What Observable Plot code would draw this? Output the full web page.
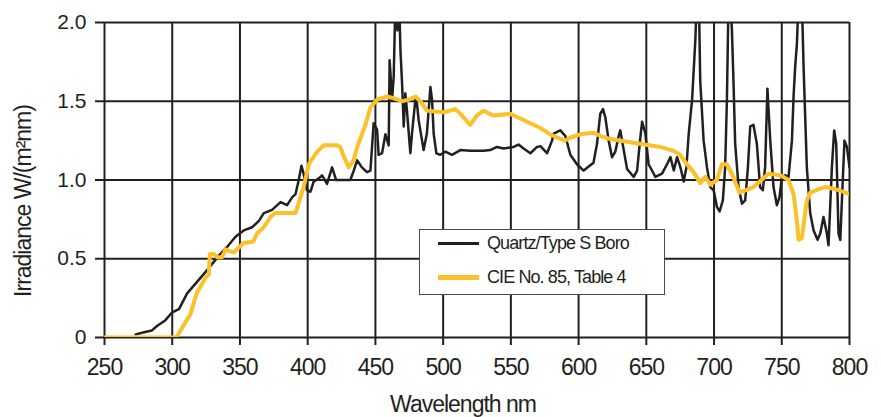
<!DOCTYPE html>
<html>
<head>
<meta charset="utf-8">
<script src="https://cdn.jsdelivr.net/npm/d3@7"></script>
<script src="https://cdn.jsdelivr.net/npm/@observablehq/plot@0.6"></script>
<style>
  html, body { margin: 0; padding: 0; background: #fff; }
  #wrap { position: relative; width: 881px; height: 417px; font-family: "Liberation Sans", Arial, sans-serif; color: #231f20; }
  #legend { position: absolute; left: 419px; top: 229px; width: 244px; height: 64px; border: 1.5px solid #4a4a4a; background: #fff; }
  .sw { position: absolute; left: 18px; width: 41px; }
  .lt { position: absolute; left: 67px; font-size: 18px; letter-spacing: -0.9px; white-space: nowrap; line-height: 20px; color: #231f20; }
</style>
</head>
<body>
<div id="wrap"></div>
<script>
// Quartz/Type S Boro (measured lamp spectrum)
const quartzNm = [273,280,285,289,295,300,305,311,318,324.5,330.7,334.4,340.5,346.7,352.8,359,364,367.6,373.7,380,384.8,388.5,391,393.4,395.4,397,399.5,402,404.4,408.2,410.6,414.3,418,421,431.5,434,436.5,440,443.8,446.3,448.7,451.2,452.4,454.9,457.4,459.8,460.5,462.3,463.5,464.8,466.3,467.5,468.5,469.7,470.9,472.1,473.3,475.8,477,479.5,480.7,481.9,485.6,488,490.6,491.8,493,495,497.9,501.7,506.5,512.7,520,529.9,534.8,539.7,544.6,552,555.7,559.4,564.4,569.3,571.8,576.7,580.4,581.6,586.5,590.2,593.9,598.8,603.7,611,613.6,616,618,619.7,622.2,624.7,627.1,629.6,630.8,632.1,635.8,640.7,643.2,645.6,646.9,649.3,651.7,656.7,661.6,665.3,667.8,670.3,672.7,675.2,677.6,679.6,681.3,683.8,686.2,687.2,688.8,689.8,692.3,694.8,697.2,699.7,702.1,704.1,706.5,708.2,709.5,710.7,712,713.2,714.4,715.6,718.1,720.6,723,725,726.7,729.1,731.6,734,736,737.7,739.4,741.5,743.9,746.4,748.3,750.1,752.6,755,757.5,758.7,759.9,761.2,762.4,764.8,766.1,767.3,768.5,771,773.5,776.4,778.4,780.8,783.3,784.5,787,788.7,790.2,791.9,793.2,794.9,796.3,798.1,800];
const quartzVal = [0.02,0.035,0.045,0.075,0.11,0.16,0.18,0.28,0.35,0.415,0.48,0.52,0.575,0.64,0.68,0.70,0.74,0.79,0.81,0.86,0.84,0.89,0.91,1.00,1.09,1.04,0.935,0.925,0.99,1.01,1.03,0.975,1.08,1.00,1.00,1.06,1.125,1.08,1.05,1.06,1.36,1.32,1.16,1.17,1.29,1.22,1.76,1.51,1.655,2.15,1.95,2.15,1.82,1.61,1.34,1.55,1.44,1.17,1.295,1.51,1.485,1.38,1.19,1.295,1.59,1.51,1.295,1.17,1.16,1.18,1.16,1.19,1.185,1.185,1.19,1.21,1.20,1.21,1.225,1.20,1.17,1.21,1.215,1.17,1.25,1.295,1.315,1.28,1.16,1.10,1.06,1.11,1.23,1.42,1.45,1.40,1.25,1.145,1.18,1.28,1.315,1.25,1.07,1.02,1.06,1.27,1.37,1.295,1.10,1.02,1.04,1.10,1.145,1.06,1.145,1.08,0.99,1.08,1.295,1.51,1.89,2.15,2.15,1.63,1.25,1.08,0.955,0.935,0.83,0.80,0.87,1.08,1.51,2.15,2.15,1.95,1.61,1.23,0.955,0.85,0.87,1.08,1.34,1.35,1.23,0.955,0.935,1.08,1.58,1.25,0.955,0.84,0.89,1.02,1.03,1.02,1.25,1.53,1.72,1.87,2.15,2.15,1.72,1.40,1.08,0.79,0.68,0.62,0.66,0.765,0.66,0.585,1.08,1.315,1.23,0.66,0.62,0.975,1.25,1.21,1.08];

// CIE No. 85, Table 4
const cieNm = [250,303,313.5,318,324.5,327,327.7,330.7,333,336.8,339.3,341.7,345.4,349,352.8,360,362.6,367.6,372.5,376,391,397,400.8,407,411.8,421.7,424,426.6,430.3,434,436.5,442.6,446.3,451.2,458.6,463.5,469.6,474.6,479.5,483.2,488,500.4,509,512.7,520,525,529.9,537,549.6,554.6,564.4,571.8,579,584,590,594,601.3,611,616,623.4,638.2,660.3,670.1,675,680,684.9,689.8,693.5,697.2,702.1,705.8,709.5,713.2,718.8,729.1,740.2,748.9,755,758.7,761.2,762.4,764.8,768.5,771,778.4,782,788.2,795.6,800];
const cieVal = [0,0,0.15,0.28,0.38,0.40,0.53,0.53,0.51,0.51,0.56,0.55,0.54,0.57,0.60,0.61,0.66,0.70,0.765,0.79,0.79,0.955,1.10,1.18,1.22,1.22,1.21,1.15,1.08,1.125,1.21,1.35,1.46,1.51,1.53,1.52,1.50,1.51,1.53,1.50,1.44,1.43,1.45,1.42,1.35,1.41,1.44,1.41,1.42,1.40,1.36,1.33,1.29,1.27,1.25,1.27,1.29,1.30,1.28,1.26,1.24,1.21,1.185,1.16,1.10,1.05,0.98,1.02,0.97,1.00,1.10,1.10,1.04,0.92,0.955,1.04,1.03,1.00,0.91,0.74,0.62,0.63,0.87,0.92,0.945,0.955,0.945,0.925,0.91];

const xTicks = [250,300,350,400,450,500,550,600,650,700,750,800];
const yTicks = [0,0.5,1.0,1.5,2.0];
const yTickLabels = ["0","0.5","1.0","1.5","2.0"];
const seriesNames = ["Quartz/Type S Boro", "CIE No. 85, Table 4"];
const seriesColors = ["#231f20", "#fcc12a"];
const xLabel = "Wavelength nm";
const yLabel = "Irradiance W/(m\u00b2nm)";

const quartz = quartzNm.map((x, i) => ({x, y: quartzVal[i]}));
const cie = cieNm.map((x, i) => ({x, y: cieVal[i]}));
const ink = "#231f20";

const chart = Plot.plot({
  width: 881,
  height: 417,
  marginLeft: 104,
  marginRight: 32,
  marginTop: 22,
  marginBottom: 80,
  x: {domain: [250, 800]},
  y: {domain: [0, 2]},
  style: {fontFamily: '"Liberation Sans", Arial, sans-serif', color: ink, background: "#fff", overflow: "visible"},
  marks: [
    Plot.gridX(xTicks, {stroke: ink, strokeOpacity: 1, strokeWidth: 2}),
    Plot.gridY(yTicks, {stroke: ink, strokeOpacity: 1, strokeWidth: 2}),
    Plot.axisX(xTicks, {tickSize: 8, tickPadding: 13, fontSize: 23, label: null, strokeWidth: 2, tickFormat: d => String(d)}),
    Plot.axisY(yTicks, {tickSize: 9, tickPadding: 9, fontSize: 21, label: null, strokeWidth: 2, tickFormat: d => yTickLabels[yTicks.indexOf(d)]}),
    Plot.line(quartz, {x: "x", y: "y", stroke: seriesColors[0], strokeWidth: 2.5, clip: true, strokeLinejoin: "round"}),
    Plot.line(cie, {x: "x", y: "y", stroke: seriesColors[1], strokeWidth: 4, clip: true, strokeLinejoin: "round"}),
    Plot.text([xLabel], {frameAnchor: "bottom", lineAnchor: "bottom", dy: 74, dx: -14, fontSize: 23, fill: ink}),
    Plot.text([yLabel], {frameAnchor: "left", textAnchor: "middle", rotate: -90, dx: -81, dy: 21, fontSize: 23, fill: ink})
  ]
});

// condensed look: tighten tracking of axis texts
d3.select(chart).selectAll('g[aria-label="x-axis tick label"] text').style("letter-spacing", "-1px");
d3.select(chart).selectAll('g[aria-label="text"] text').style("letter-spacing", "-1px");

const wrap = document.getElementById("wrap");
wrap.appendChild(chart);

const legend = document.createElement("div");
legend.id = "legend";
seriesNames.forEach((name, i) => {
  const sw = document.createElement("div");
  sw.className = "sw";
  sw.style.height = (i === 0 ? 3 : 5) + "px";
  sw.style.background = seriesColors[i];
  sw.style.top = (i === 0 ? 12 : 45) + "px";
  const lt = document.createElement("div");
  lt.className = "lt";
  lt.textContent = name;
  lt.style.top = (i === 0 ? 3 : 37) + "px";
  legend.appendChild(sw);
  legend.appendChild(lt);
});
wrap.appendChild(legend);
</script>
</body>
</html>
